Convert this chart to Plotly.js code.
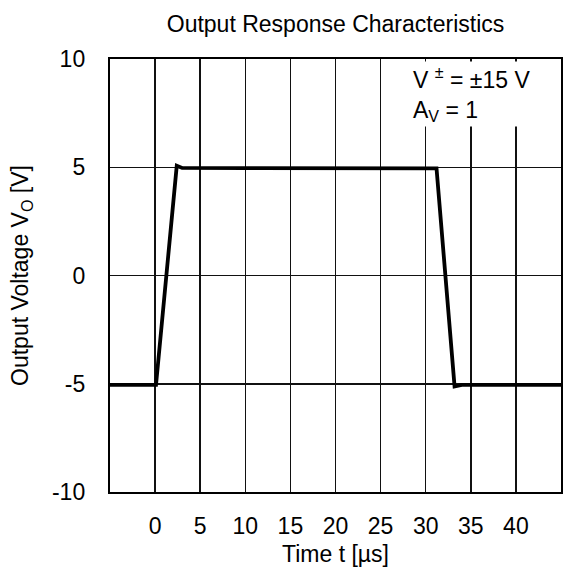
<!DOCTYPE html>
<html>
<head>
<meta charset="utf-8">
<script src="https://cdn.plot.ly/plotly-3.0.1.min.js"></script>
<style>html,body{margin:0;padding:0;background:#fff;}#chart{width:563px;height:571px;}</style>
</head>
<body>
<div id="chart"></div>
<script>
// Data
var timeUs = [-5, 0, 0.1, 2.4, 3.0, 10, 20, 31.2, 33.2, 34.0, 40, 45];
var voltageV = [-5.05, -5.05, -5.05, 5.07, 4.97, 4.96, 4.95, 4.95, -5.12, -5.05, -5.05, -5.05];
var xTicks = [0, 5, 10, 15, 20, 25, 30, 35, 40];
var yTicks = [-10, -5, 0, 5, 10];

var FONT = 'Liberation Sans, Arial, sans-serif';
var FS = 23;

var trace = {
  x: timeUs, y: voltageV, mode: 'lines', type: 'scatter',
  line: {color: '#000', width: 3.8}, hoverinfo: 'skip'
};

var layout = {
  width: 563, height: 571,
  margin: {l: 110, r: 2, t: 59, b: 79},
  paper_bgcolor: '#fff', plot_bgcolor: '#fff',
  showlegend: false,
  font: {family: FONT, color: '#000', size: FS},
  title: {text: 'Output Response Characteristics', font: {size: FS, family: FONT, color: '#000'},
          x: 0.5, xref: 'paper', xanchor: 'center', y: 0.958, yanchor: 'middle'},
  xaxis: {
    range: [-5, 45], tickvals: xTicks, ticktext: xTicks.map(String),
    showgrid: true, gridcolor: '#111', gridwidth: 1.5,
    showline: true, linecolor: '#000', linewidth: 2.2, mirror: true,
    zeroline: false, ticks: '', ticklabelstandoff: 12,
    tickfont: {size: FS, family: FONT, color: '#000'},
    title: {text: 'Time t [µs]', font: {size: FS, family: FONT, color: '#000'}, standoff: 8}
  },
  yaxis: {
    range: [-10, 10], tickvals: yTicks, ticktext: yTicks.map(String),
    showgrid: true, gridcolor: '#111', gridwidth: 1.5,
    showline: true, linecolor: '#000', linewidth: 2.2, mirror: true,
    zeroline: false, ticks: '', ticklabelstandoff: 18,
    tickfont: {size: FS, family: FONT, color: '#000'},
    title: {text: 'Output Voltage V<sub>O</sub> [V]', font: {size: FS, family: FONT, color: '#000'}, standoff: 17}
  },
  annotations: [{
    xref: 'paper', yref: 'paper', x: 0.668, y: 0.995, xanchor: 'left', yanchor: 'top',
    text: 'V <sup>±</sup> = ±15 V<br>A<sub>V</sub> = 1', align: 'left', showarrow: false,
    bgcolor: '#fff', borderpad: 1,
    font: {size: FS, family: FONT, color: '#000'}
  }]
};

Plotly.newPlot('chart', [trace], layout, {displayModeBar: false, staticPlot: true});
</script>
</body>
</html>
